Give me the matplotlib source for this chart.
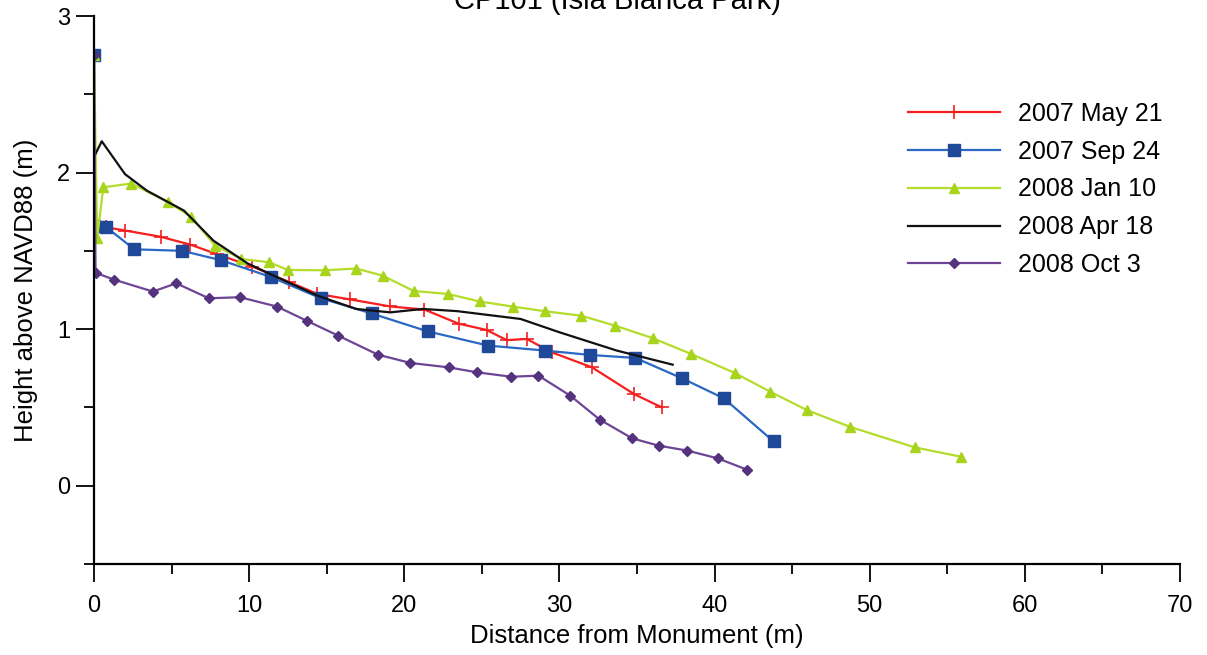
import matplotlib
matplotlib.use("Agg")
import matplotlib.pyplot as plt
from matplotlib.ticker import MultipleLocator

plt.rcParams['font.family'] = ['Liberation Sans', 'DejaVu Sans']

title = "CP101 (Isla Blanca Park)"
xlabel = "Distance from Monument (m)"
ylabel = "Height above NAVD88 (m)"

may07_x = [0, 0, 0.8, 2.0, 4.3, 6.2, 7.9, 10.2, 12.6, 14.4, 16.5, 19.1, 21.3, 23.5, 25.3, 26.6, 27.9, 29.5, 32.1, 34.8, 36.6]
may07_y = [2.75, 1.66, 1.65, 1.63, 1.59, 1.54, 1.48, 1.40, 1.30, 1.225, 1.19, 1.145, 1.125, 1.035, 0.995, 0.93, 0.937, 0.852, 0.756, 0.586, 0.50]

sep07_x = [0, 0, 0.8, 2.6, 5.7, 8.2, 11.4, 14.6, 17.9, 21.5, 25.4, 29.1, 32.0, 34.9, 37.9, 40.6, 43.8]
sep07_y = [2.75, 1.66, 1.65, 1.51, 1.50, 1.44, 1.333, 1.198, 1.10, 0.986, 0.895, 0.863, 0.835, 0.816, 0.686, 0.558, 0.283]

jan08_x = [0, 0.2, 0.6, 2.4, 4.8, 6.25, 7.8, 9.5, 11.3, 12.5, 14.9, 16.9, 18.6, 20.6, 22.8, 24.85, 27.0, 29.1, 31.4, 33.6, 36.0, 38.5, 41.3, 43.6, 45.95, 48.7, 52.9, 55.9]
jan08_y = [2.75, 1.58, 1.906, 1.93, 1.81, 1.719, 1.534, 1.448, 1.427, 1.378, 1.376, 1.387, 1.342, 1.244, 1.225, 1.177, 1.144, 1.114, 1.086, 1.022, 0.943, 0.841, 0.72, 0.60, 0.483, 0.377, 0.245, 0.185]

apr08_x = [0, 0, 0.5, 2.0, 3.4, 5.8, 7.7, 9.9, 11.4, 14.4, 16.9, 19.1, 21.2, 23.4, 27.5, 30.0, 33.7, 37.3]
apr08_y = [2.75, 2.1, 2.2, 1.99, 1.885, 1.757, 1.565, 1.42, 1.35, 1.214, 1.129, 1.107, 1.129, 1.115, 1.065, 0.98, 0.863, 0.773]

oct08_x = [0, 0.1, 1.3, 3.8, 5.3, 7.4, 9.4, 11.8, 13.7, 15.75, 18.3, 20.4, 22.85, 24.7, 26.9, 28.65, 30.7, 32.6, 34.7, 36.4, 38.25, 40.2, 42.1]
oct08_y = [2.75, 1.36, 1.316, 1.24, 1.293, 1.197, 1.204, 1.144, 1.054, 0.958, 0.837, 0.784, 0.756, 0.724, 0.696, 0.703, 0.575, 0.422, 0.302, 0.256, 0.224, 0.175, 0.102]

labels = ["2007 May 21", "2007 Sep 24", "2008 Jan 10", "2008 Apr 18", "2008 Oct 3"]

fig = plt.figure(figsize=(12.07, 6.55), dpi=100)
ax = fig.add_axes([94/1207, 1 - 564/655, (1180 - 94)/1207, (564 - 16)/655])

ax.plot(may07_x, may07_y, color='#f51f1f', lw=1.6, marker='+', ms=10, mew=1.2, label=labels[0])
ax.plot(sep07_x, sep07_y, color='#2a68c4', lw=1.6, marker='s', ms=8, mfc='#1f4899', mec='#1f4899', label=labels[1])
ax.plot(jan08_x, jan08_y, color='#b4dc2a', lw=1.6, marker='^', ms=7, mfc='#a8d41c', mec='#a8d41c', label=labels[2])
ax.plot(apr08_x, apr08_y, color='#111111', lw=1.6, label=labels[3])
ax.plot(oct08_x, oct08_y, color='#6e4596', lw=1.6, marker='D', ms=5.5, mfc='#55327d', mec='#55327d', label=labels[4])

ax.set_xlim(0, 70)
ax.set_ylim(-0.5, 3)
ax.xaxis.set_major_locator(MultipleLocator(10))
ax.xaxis.set_minor_locator(MultipleLocator(5))
ax.yaxis.set_major_locator(MultipleLocator(1))
ax.yaxis.set_minor_locator(MultipleLocator(0.5))
ax.spines['top'].set_visible(False)
ax.spines['right'].set_visible(False)
for s in ('left', 'bottom'):
    ax.spines[s].set_linewidth(1.6)
ax.tick_params(which='major', direction='out', length=13, width=1.3, labelsize=17)
ax.tick_params(which='minor', direction='out', length=7, width=1.3)
ax.tick_params(axis='x', which='major', pad=9)
ax.tick_params(axis='y', which='major', pad=4)

ax.set_xlabel(xlabel, fontsize=18.5, labelpad=5)
ax.set_ylabel(ylabel, fontsize=18.5, labelpad=14)

fig.text(617/1207, 1 - 9/655, title, ha='center', va='baseline', fontsize=21)

ax.legend(loc='upper left', bbox_to_anchor=(908/1207, 1 - 102/655), bbox_transform=fig.transFigure,
          frameon=False, fontsize=18, borderpad=0, borderaxespad=0,
          handlelength=3.7, numpoints=1, labelspacing=0.55, handletextpad=0.7)

fig.savefig("out.png", dpi=100)
